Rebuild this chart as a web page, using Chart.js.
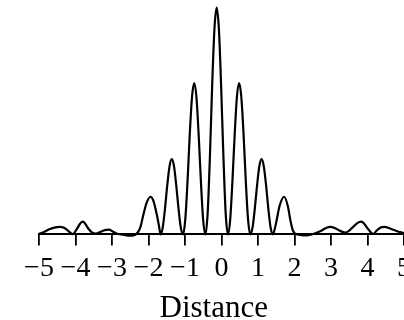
<!DOCTYPE html>
<html>
<head>
<meta charset="utf-8">
<script src="https://cdn.jsdelivr.net/npm/chart.js@4/dist/chart.umd.min.js"></script>
<style>
  html, body { margin: 0; padding: 0; background: #fff; }
  #wrap { width: 404px; height: 320px; }
</style>
</head>
<body>
<div id="wrap"><canvas id="myChart" width="404" height="320"></canvas></div>
<script>
// positions along the screen
var distance = [
    -5.00, -4.97, -4.85, -4.70, -4.55, -4.43, -4.33, -4.24, -4.16, -4.08,
    -4.01, -3.94, -3.87, -3.80, -3.73, -3.65, -3.55, -3.44, -3.32, -3.20,
    -3.085, -2.97, -2.86, -2.75, -2.62, -2.50, -2.40, -2.33, -2.28, -2.22,
    -2.15, -2.05, -1.945, -1.87, -1.78, -1.71, -1.67,
    -1.609, -1.547, -1.486, -1.424, -1.363, -1.301, -1.240, -1.178, -1.117, -1.055,
    -0.994, -0.932, -0.871, -0.809, -0.748, -0.686, -0.625, -0.563, -0.502, -0.440,
    -0.379, -0.317, -0.256, -0.194, -0.133, -0.071, -0.010, 0.052, 0.114, 0.175,
    0.237, 0.298, 0.360, 0.421, 0.483, 0.544, 0.606, 0.667, 0.729, 0.790,
    0.852, 0.913, 0.975, 1.036, 1.098, 1.159, 1.221, 1.282, 1.344, 1.405,
    1.46, 1.52, 1.59, 1.715, 1.82, 1.89, 1.95, 2.01, 2.09,
    2.20, 2.32, 2.45, 2.60, 2.72, 2.85, 2.98, 3.10, 3.22, 3.33,
    3.39, 3.50, 3.60, 3.72, 3.83, 3.92, 4.01, 4.10, 4.16, 4.24,
    4.35, 4.46, 4.60, 4.75, 4.92, 5.00
];

// intensity, central maximum = 1
var intensity = [
    0.003, 0.004, 0.012, 0.024, 0.031, 0.033, 0.030, 0.021, 0.010, 0.001,
    0.012, 0.030, 0.048, 0.056, 0.046, 0.026, 0.009, 0.004, 0.011, 0.019,
    0.021, 0.012, 0.003, 0.000, -0.004, -0.006, -0.004, 0.002, 0.012, 0.033,
    0.080, 0.140, 0.166, 0.150, 0.093, 0.035, 0.000,
    0.032, 0.115, 0.217, 0.300, 0.332, 0.300, 0.217, 0.115, 0.032, 0.000,
    0.063, 0.230, 0.437, 0.604, 0.667, 0.604, 0.437, 0.230, 0.063, 0.000,
    0.095, 0.345, 0.655, 0.905, 1.000, 0.905, 0.655, 0.345, 0.095, 0.000,
    0.063, 0.230, 0.437, 0.604, 0.667, 0.604, 0.437, 0.230, 0.063, 0.000,
    0.032, 0.115, 0.217, 0.300, 0.332, 0.300, 0.217, 0.115, 0.032, 0.000,
    0.025, 0.070, 0.125, 0.166, 0.123, 0.060, 0.020, 0.004, 0.000,
    -0.003, -0.004, -0.001, 0.007, 0.015, 0.027, 0.033, 0.028, 0.018, 0.010,
    0.008, 0.017, 0.032, 0.050, 0.056, 0.045, 0.025, 0.008, 0.002, 0.015,
    0.029, 0.033, 0.027, 0.018, 0.009, 0.006
];

var tickValues = [-5, -4, -3, -2, -1, 0, 1, 2, 3, 4, 5];

var points = distance.map(function (d, i) {
    return { x: d, y: intensity[i] };
});

var serif = "'Liberation Serif', 'Times New Roman', serif";

var ctx = document.getElementById('myChart').getContext('2d');
var myChart = new Chart(ctx, {
    type: 'line',
    data: {
        datasets: [{
            data: points,
            borderColor: '#000',
            borderWidth: 2.2,
            pointRadius: 0,
            fill: false,
            cubicInterpolationMode: 'monotone',
            clip: false
        }]
    },
    options: {
        responsive: false,
        animation: false,
        devicePixelRatio: 1,
        layout: {
            padding: { left: 39, right: 0, top: 0, bottom: 0 }
        },
        plugins: {
            legend: { display: false },
            tooltip: { enabled: false }
        },
        scales: {
            x: {
                type: 'linear',
                min: -5,
                max: 5,
                afterBuildTicks: function (scale) {
                    scale.ticks = tickValues.map(function (v) { return { value: v }; });
                },
                afterFit: function (scale) {
                    // let the last label run off the edge like in the original
                    scale.paddingLeft = 0;
                    scale.paddingRight = 0;
                },
                grid: {
                    display: true,
                    drawOnChartArea: false,
                    drawTicks: true,
                    tickLength: 11,
                    color: '#000',
                    lineWidth: 1.8
                },
                border: { display: true, color: '#000', width: 2 },
                ticks: {
                    autoSkip: false,
                    maxRotation: 0,
                    padding: 6,
                    color: '#000',
                    font: { family: serif, size: 28 },
                    callback: function (v) {
                        return v < 0 ? '\u2212' + Math.abs(v) : String(v);
                    }
                },
                title: {
                    display: true,
                    // trailing en space nudges the title a little left, as in the original
                    text: 'Distance\u2002',
                    color: '#000',
                    font: { family: serif, size: 31, lineHeight: 0.7 },
                    padding: { top: 7.3, bottom: 0 }
                }
            },
            y: {
                display: false,
                min: 0,
                max: 1.034
            }
        }
    }
});
</script>
</body>
</html>
